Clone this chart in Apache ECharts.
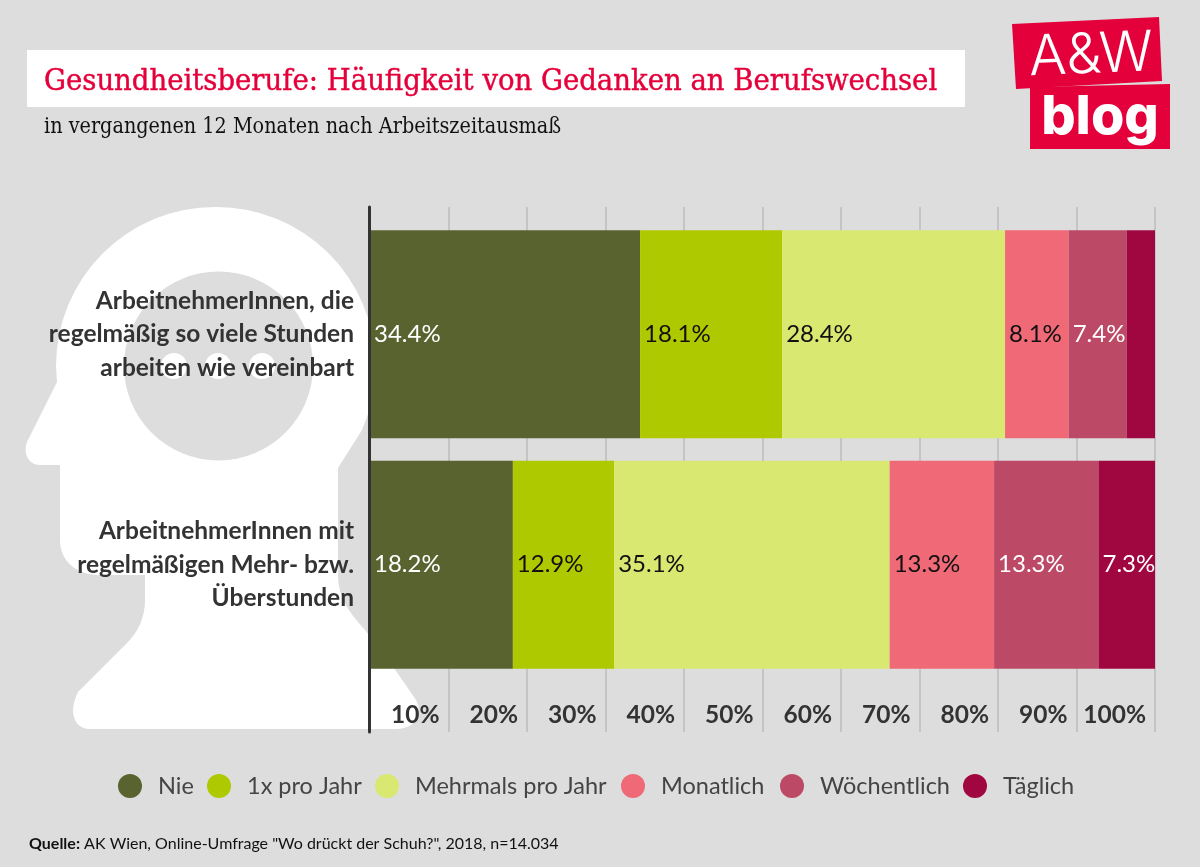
<!DOCTYPE html>
<html><head><meta charset="utf-8">
<style>html,body{margin:0;padding:0;background:#ddd}#c{width:1200px;height:867px}</style>
<script src="https://cdn.jsdelivr.net/npm/echarts@6/dist/echarts.min.js"></script>
</head><body><div id="c"></div>
<script>
const categories = ['ArbeitnehmerInnen, die\nregelmäßig so viele Stunden\narbeiten wie vereinbart','ArbeitnehmerInnen mit\nregelmäßigen Mehr- bzw.\nÜberstunden'];
const seriesNames = ['Nie','1x pro Jahr','Mehrmals pro Jahr','Monatlich','Wöchentlich','Täglich'];
const nie = [34.4,18.2];
const einmal = [18.1,12.9];
const mehrmals = [28.4,35.1];
const monatlich = [8.1,13.3];
const woechentlich = [7.4,13.3];
const taeglich = [3.6,7.3];
const colors = ['#59632f','#afc900','#d8e870','#ef6977','#bc4a66','#a00640'];
const labelColors = ['#fff','#111','#111','#111','#fff','#fff'];
const legendX = [118,207,375,621,780,963];
const allValues = [nie,einmal,mehrmals,monatlich,woechentlich,taeglich];
const SANS = 'Lato';
const SERIF = '"DejaVu Serif Condensed","DejaVu Serif"';
echarts.graphic.registerShape('head', echarts.graphic.extendPath('M215 207A159 159 0 0 1 362 430L338 468L338 575C338 600 352 615 365 630L394 668L416 700C424 715 414 729 397 729L90 729C74 729 68 712 78 692L127 643C138 632 145 618 145 600L145 575L100 575C75 575 60 560 60 540L60 465L40 465C28 465 22 452 28 440L57 382L56 366A159 159 0 0 1 215 207Z'));
const chart = echarts.init(document.getElementById('c'));
chart.setOption({
  backgroundColor:'#dddddd',
  animation:false,
  title:[
    {text:'Gesundheitsberufe: Häufigkeit von Gedanken an Berufswechsel',left:44,top:67,padding:0,
     textStyle:{color:'#e4003a',fontFamily:SERIF,fontSize:30.6,fontWeight:'normal',textBorderColor:'#e4003a',textBorderWidth:0.4}},
    {text:'in vergangenen 12 Monaten nach Arbeitszeitausmaß',left:44,top:117,padding:0,
     textStyle:{color:'#111',fontFamily:SERIF,fontSize:21.4,fontWeight:'normal'}},
    {text:'{b|Quelle:} AK Wien, Online-Umfrage "Wo drückt der Schuh?", 2018, n=14.034',left:29,top:836,padding:0,
     textStyle:{color:'#111',fontFamily:SANS,fontSize:16,fontWeight:'normal',
       rich:{b:{fontFamily:SANS,fontSize:16,fontWeight:'bold',color:'#111'}}}}
  ],
  legend:seriesNames.map((n,i)=>({
    data:[n],left:legendX[i],top:774,padding:0,itemWidth:24,itemHeight:24,icon:'circle',
    selectedMode:false,
    textStyle:{color:'#444',fontFamily:SANS,fontSize:23.5,padding:[0,0,0,11]}
  })),
  grid:[
    {left:370,width:785,top:219,height:461},
    {left:370,width:785,top:207,height:525}
  ],
  xAxis:[
    {type:'value',gridIndex:0,min:0,max:100,interval:10,show:false},
    {type:'value',gridIndex:1,min:0,max:100,interval:10,
     axisLine:{show:false},axisTick:{show:false},
     splitLine:{show:true,lineStyle:{color:'#bbbbbb',width:1.5}},
     axisLabel:{inside:true,margin:4,align:'right',showMinLabel:false,padding:[0,9,0,0],
       formatter:'{value}%',color:'#333',fontFamily:SANS,fontWeight:'bold',fontSize:24.5}}
  ],
  yAxis:[
    {type:'category',gridIndex:0,inverse:true,data:categories,
     axisLine:{show:false},axisTick:{show:false},splitLine:{show:false},
     axisLabel:{margin:16,align:'right',color:'#333',fontFamily:SANS,fontWeight:'bold',fontSize:24.5,lineHeight:33.5}},
    {type:'value',gridIndex:1,position:'left',offset:1,z:5,min:0,max:1,interval:1,
     axisLine:{show:true,onZero:false,lineStyle:{color:'#333',width:3}},
     axisTick:{show:false},axisLabel:{show:false},splitLine:{show:false}}
  ],
  series:seriesNames.map((n,i)=>({
    name:n,type:'bar',stack:'s',xAxisIndex:0,yAxisIndex:0,barWidth:208,z:3,
    data:allValues[i],
    itemStyle:{color:colors[i]},
    label:{show:true,position:'insideLeft',distance:4,color:labelColors[i],fontFamily:SANS,fontSize:24,
      formatter:p=>p.value<5?'':p.value.toFixed(1)+'%'}
  })),
  graphic:[
    {type:'rect',z:-2,shape:{x:27,y:50,width:938,height:57},style:{fill:'#fff'}},
    {type:'head',z:-2,shape:{},style:{fill:'#fff'}},
    {type:'circle',z:-1,shape:{cx:218.5,cy:366,r:94.5},style:{fill:'#ddd'}},
    {type:'circle',z:-1,shape:{cx:174,cy:366,r:13},style:{fill:'#fff'}},
    {type:'circle',z:-1,shape:{cx:218,cy:366,r:13},style:{fill:'#fff'}},
    {type:'circle',z:-1,shape:{cx:262,cy:366,r:13},style:{fill:'#fff'}},
    {type:'polygon',z:-2,shape:{points:[[1012,24],[1159,17],[1162,81],[1016,89]]},style:{fill:'#e4003a'}},
    {type:'polygon',z:-2,shape:{points:[[1030,87],[1170,84],[1170,149],[1030,149]]},style:{fill:'#e4003a'}},
    {type:'text',z:-1,x:1091,y:56,rotation:0.04,style:{text:'A&W',fill:'#fff',font:'300 56px Inter, Lato',align:'center',verticalAlign:'middle'}},
    {type:'text',z:-1,x:1100,y:118,style:{text:'blog',fill:'#fff',font:'800 54px Inter, Lato',align:'center',verticalAlign:'middle'}}
  ]
});
</script></body></html>
